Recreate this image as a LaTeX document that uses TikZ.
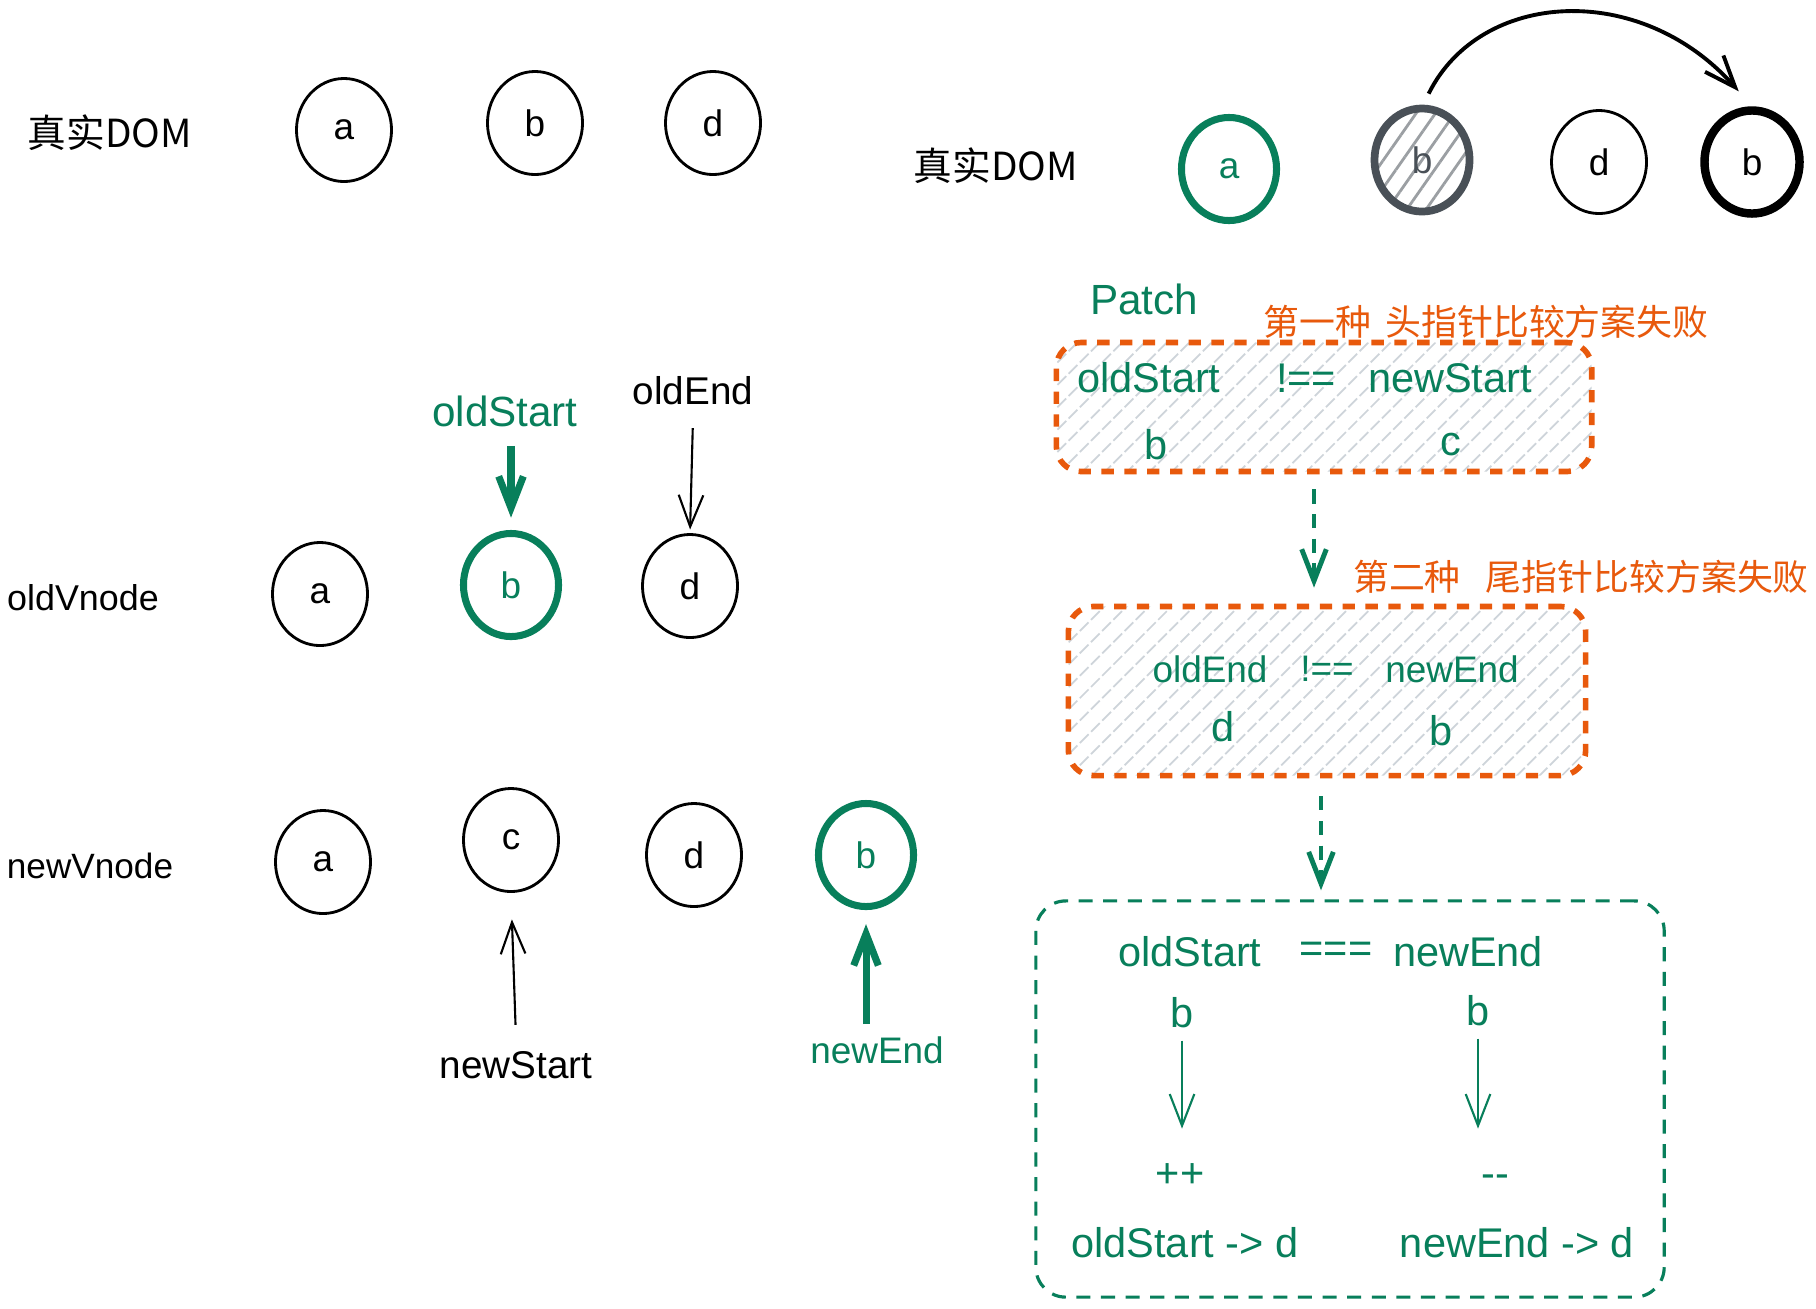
\documentclass[tikz,border=0pt]{standalone}
\usepackage{fontspec}
\setmainfont{Liberation Sans}
\newfontfamily\cjk{Noto Sans CJK SC}
\usetikzlibrary{
	arrows.meta,
	shapes.geometric,
	patterns.meta
}

\definecolor{exgreen}{HTML}{087F5B}
\definecolor{exorange}{HTML}{E8590C}
\definecolor{exgray}{HTML}{495057}
\definecolor{hatchgray}{HTML}{CED4DA}

\begin{document}
\begin{tikzpicture}[
		x=0.01cm, y=-0.01cm,
		vnode/.style={draw, ellipse, line width=0.8pt, minimum width=0.95cm, minimum height=1.03cm, inner sep=0pt, font=\fontsize{10.5}{12}\selectfont},
		greennode/.style={vnode, draw=exgreen, text=exgreen, line width=2pt},
		lbl/.style={font=\fontsize{11}{13}\selectfont},
		domlbl/.style={font=\cjk\fontsize{11}{13}\selectfont},
		txt/.style={text=exgreen, font=\fontsize{11.8}{14}\selectfont},
		smalltxt/.style={txt, font=\fontsize{10.5}{13}\selectfont},
		cn/.style={text=exorange, font=\cjk\fontsize{10.2}{12}\selectfont},
		hatchbox/.style={draw=exorange, line width=1.6pt, dash pattern=on 3.5pt off 3pt, rounded corners=0.25cm, pattern={Lines[angle=45,distance=4.5pt,line width=0.5pt]}, pattern color=hatchgray},
		arrow/.style={-{Straight Barb[length=9pt,width=7pt]}, line width=0.6pt},
		dasharrow/.style={arrow, draw=exgreen, line width=1.4pt, dash pattern=on 4pt off 3pt}
		]
		
		\path[fill=white, use as bounding box] (0,0) rectangle (1816,1308);
		
		% Real DOM (left)
		\node[domlbl] (domL) at (110,133) {真实DOM};
		\node[vnode] (da) at (344,130) {a};
		\node[vnode] (db) at (535,123) {b};
		\node[vnode] (dd) at (713,123) {d};
		
		% old vnodes
		\node[lbl, font=\fontsize{10.2}{12}\selectfont] (oldV) at (83,598) {oldVnode};
		\node[vnode] (oa) at (320,594) {a};
		\node[greennode] (ob) at (511,585) {b};
		\node[vnode] (od) at (690,586) {d};
		\node[txt, font=\fontsize{12}{14}\selectfont] (oldS) at (505,411) {oldStart};
		\node[lbl] (oldE) at (693,391) {oldEnd};
		
		% new vnodes
		\node[lbl, font=\fontsize{10}{12}\selectfont] (newV) at (90,866) {newVnode};
		\node[vnode] (na) at (323,862) {a};
		\node[vnode] (nc) at (511,840) {c};
		\node[vnode] (nd) at (694,855) {d};
		\node[greennode] (nb) at (866,855) {b};
		\node[lbl] (newS) at (516,1065) {newStart};
		\node[lbl, text=exgreen, font=\fontsize{10.5}{12}\selectfont] (newE) at (877,1050) {newEnd};
		
		% pointers
		\draw[arrow, exgreen, line width=2pt, shorten <=2pt, shorten >=3.5pt] (ob.north |- oldS.south) -- (ob.north);
		\draw[arrow, shorten <=3pt, shorten >=1pt] (oldE.south) -- (od.north);
		\draw[arrow, shorten <=4pt, shorten >=7.5pt] (newS.north) -- (nc.south);
		\draw[arrow, exgreen, line width=2pt, shorten >=4pt] (nb.south |- newE.north) -- (nb.south);
		
		% Real DOM (right)
		\node[domlbl] (domR) at (996,166) {真实DOM};
		\node[greennode] (ra) at (1229,169) {a};
		\node[vnode, draw=exgray, text=exgray, line width=2.2pt, pattern={Lines[angle=55,distance=4.5pt,line width=0.8pt]}, pattern color=exgray!55] (rb) at (1422,160) {b};
		\node[vnode] (rd) at (1599,162) {d};
		\node[vnode, line width=2.4pt] (rb2) at (1752,162) {b};
		\draw[arrow, line width=1.1pt, shorten <=0.15cm, shorten >=0.2cm] (rb.north) .. controls (1480,-10) and (1640,-20) .. (rb2.north);
		
		% Patch
		\node[txt, font=\fontsize{12}{14}\selectfont] (patch) at (1144,299) {Patch};
		\node[cn] (fail1) at (1486,322) {第一种\hspace{0.4em}头指针比较方案失败};
		\node[hatchbox, minimum width=5.35cm, minimum height=1.29cm] (box1) at (1324,407) {};
		\node[txt] (b1os) at (1149,378) {oldStart};
		\node[txt] (b1ne) at (1306,378) {!==};
		\node[txt] (b1ns) at (1450,378) {newStart};
		\node[txt] (b1b) at (1156,445) {b};
		\node[txt] (b1c) at (1451,445) {c};
		
		\node[cn] (fail2) at (1581,577) {第二种\hspace{0.7em}尾指针比较方案失败};
		\node[hatchbox, minimum width=5.17cm, minimum height=1.69cm] (box2) at (1327,691) {};
		\node[smalltxt] (b2oe) at (1210,669) {oldEnd};
		\node[smalltxt] (b2ne) at (1327,669) {!==};
		\node[smalltxt] (b2nw) at (1452,669) {newEnd};
		\node[txt] (b2d) at (1223,727) {d};
		\node[txt] (b2b) at (1441,731) {b};
		
		\node[draw=exgreen, line width=0.9pt, dash pattern=on 4pt off 3pt, rounded corners=0.3cm, minimum width=6.28cm, minimum height=3.96cm] (box3) at (1350,1099) {};
		\node[txt] (b3os) at (1190,952) {oldStart};
		\node[txt] (b3eq) at (1336,952) {===};
		\node[txt] (b3ne) at (1468,952) {newEnd};
		\node[txt] (b3b1) at (1182,1013) {b};
		\node[txt] (b3b2) at (1478,1011) {b};
		\node[txt] (b3pp) at (1180,1175) {++};
		\node[txt] (b3mm) at (1495,1181) {-{}-};
		\node[txt] (b3od) at (1185,1243) {oldStart -> d};
		\node[txt] (b3nd) at (1517,1243) {newEnd -> d};
		
		% Arrows
		\draw[dasharrow, shorten <=0.17cm, shorten >=0.16cm] ([xshift=-0.1cm]box1.south) -- ([xshift=-0.1cm]box1.south |- box2.north);
		\draw[dasharrow, shorten <=0.18cm, shorten >=0.09cm] ([xshift=-0.06cm]box2.south) -- ([xshift=-0.06cm]box2.south |- box3.north);
		\draw[arrow, exgreen, shorten >=0.22cm] (b3b1) -- (b3b1 |- b3pp.north);
		\draw[arrow, exgreen, shorten >=0.22cm] (b3b2) -- (b3b2 |- b3pp.north);
		
	\end{tikzpicture}
\end{document}
